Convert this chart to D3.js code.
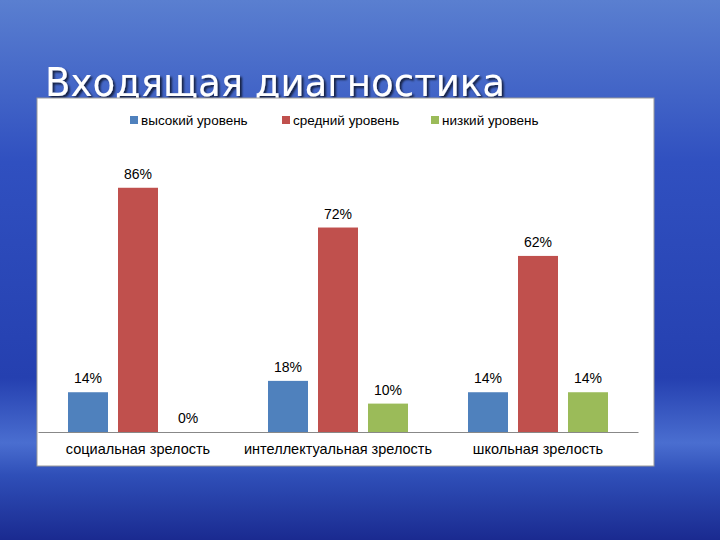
<!DOCTYPE html>
<html><head><meta charset="utf-8">
<script src="https://cdn.jsdelivr.net/npm/d3@7"></script>
<style>body{margin:0;overflow:hidden}</style></head>
<body><svg id="c" width="720" height="540"></svg>
<script>
const categories = ["социальная зрелость","интеллектуальная зрелость","школьная зрелость"];
const seriesNames = ["высокий уровень","средний уровень","низкий уровень"];
const colors = ["#4f81bd","#c0504d","#9bbb59"];
const high = [14,18,14];
const mid = [86,72,62];
const low = [0,10,14];
const values = [high, mid, low];

const svg = d3.select("#c");
const defs = svg.append("defs");
const g = defs.append("linearGradient").attr("id","bg").attr("x1",0).attr("y1",0).attr("x2",0).attr("y2",1);
[["0%","#5a7fd0"],["30%","#3050c0"],["70%","#2540b0"],["82%","#4a6ed0"],["88%","#2f4fb8"],["100%","#1a2a90"]]
 .forEach(([o,c])=>g.append("stop").attr("offset",o).attr("stop-color",c));
svg.append("rect").attr("width",720).attr("height",540).attr("fill","url(#bg)");
const f = defs.append("filter").attr("id","sh");
f.append("feDropShadow").attr("dx",2).attr("dy",2).attr("stdDeviation",1).attr("flood-color","#000").attr("flood-opacity",0.7);
svg.append("text").attr("x",45).attr("y",96).attr("fill","#fff").attr("font-family","DejaVu Sans")
 .attr("font-size",39).attr("textLength",460).attr("lengthAdjust","spacingAndGlyphs").attr("filter","url(#sh)").text("Входящая диагностика");

svg.append("rect").attr("x",37).attr("y",98).attr("width",617).attr("height",368).attr("fill","#fff").attr("stroke","#999");

const x0 = d3.scaleBand().domain(categories).range([38,638]);
const x1 = d3.scaleBand().domain([0,1,2]).range([0,140]).paddingInner(0.2);
const y = d3.scaleLinear().domain([0,100]).range([432,148]);

const grp = svg.append("g").selectAll("g").data(categories).join("g")
 .attr("transform",d=>`translate(${x0(d)+x0.bandwidth()/2-70},0)`);
grp.each(function(c,ci){
  const s = d3.select(this);
  values.forEach((arr,si)=>{
    const v = arr[ci];
    s.append("rect").attr("x",x1(si)).attr("width",x1.bandwidth()).attr("y",y(v)).attr("height",y(0)-y(v)).attr("fill",colors[si]);
    s.append("text").attr("x",x1(si)+x1.bandwidth()/2).attr("y",y(v)-9).attr("text-anchor","middle")
     .attr("font-family","Liberation Sans, Arial").attr("font-size",14).attr("fill","#000").text(v+"%");
  });
});
const ax = svg.append("g").attr("transform","translate(0,432)").call(d3.axisBottom(x0).tickSize(0).tickPadding(12));
ax.select(".domain").attr("stroke","#888");
ax.selectAll("text").attr("font-family","Liberation Sans, Arial").attr("font-size",14.5).attr("fill","#000");

const lx = [130,282,431];
seriesNames.forEach((n,i)=>{
  svg.append("rect").attr("x",lx[i]).attr("y",116).attr("width",8).attr("height",8).attr("fill",colors[i]);
  svg.append("text").attr("x",lx[i]+11).attr("y",125).attr("font-family","Liberation Sans, Arial").attr("font-size",13.5).text(n);
});
</script></body></html>
